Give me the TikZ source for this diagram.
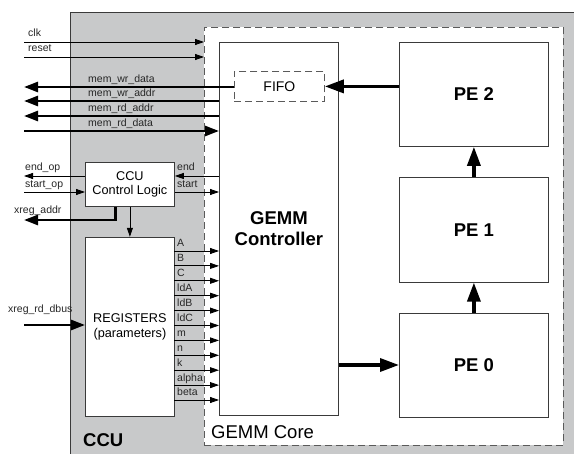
\documentclass[tikz,border=0pt]{standalone}
\usepackage{fontspec}
\setmainfont{Liberation Sans}
\usetikzlibrary{arrows.meta,positioning}
\definecolor{ccugray}{HTML}{C8C9CA}
\definecolor{edge}{HTML}{3A3A3A}
\definecolor{dashgray}{HTML}{5A5A5A}

\begin{document}
\begin{tikzpicture}[
  x=1pt,y=-1pt,
  sig/.style={font=\fontsize{10.5}{12}\selectfont,inner sep=0pt,anchor=base west,text=black!85},
  blk/.style={draw=edge,line width=0.8pt,fill=white,inner sep=0pt,align=center,anchor=north west},
  core/.style={blk,draw=dashgray,dash pattern=on 7pt off 4pt},
  big/.style={font=\fontsize{18.5}{21}\selectfont\bfseries},
  mid/.style={font=\fontsize{12.7}{14.5}\selectfont},
  wire/.style={-{Triangle[length=9pt,width=6pt]},draw=black,line width=0.8pt},
  bus/.style={-{Triangle[length=14pt,width=10pt]},draw=black,line width=2.6pt},
  link/.style={-{Triangle[length=19pt,width=13pt]},draw=black,line width=3.4pt}]
\useasboundingbox (0,0) rectangle (574,454);
% CCU and GEMM core frames
\node[fill=ccugray,inner sep=0pt,minimum width=504pt,minimum height=442pt,anchor=north west] (ccu) at (70,12) {};
\draw[edge,line width=0.8pt] (ccu.south west) -- (ccu.north west) -- (ccu.north east);
\node[core,minimum width=359pt,minimum height=418pt] (gcore) at (204,27) {};
\node[big,inner sep=0pt,anchor=base west] (lccu) at (83,447) {CCU};
\node[font=\fontsize{18.5}{21}\selectfont,inner sep=0pt,anchor=base west] (lcore) at (211,439) {GEMM Core};
% blocks
\node[blk,big,minimum width=119pt,minimum height=373pt] (gemm) at (219,42) {GEMM\\Controller};
\node[core,font=\fontsize{14}{16}\selectfont,minimum width=90pt,minimum height=30pt] (fifo) at (234,71) {FIFO};
\node[blk,big,minimum width=149pt,minimum height=104pt] (pe2) at (399,42) {PE 2};
\node[blk,big,minimum width=149pt,minimum height=105pt,below=30pt of pe2] (pe1) {PE 1};
\node[blk,big,minimum width=149pt,minimum height=104pt,below=30pt of pe1] (pe0) {PE 0};
\node[blk,mid,minimum width=89pt,minimum height=44pt] (ctl) at (85,162) {CCU\\Control Logic};
\node[blk,mid,minimum width=89pt,minimum height=179pt,below=30pt of ctl] (regs) {REGISTERS\\(parameters)};
% PE chain
\draw[link] (fifo.east -| pe2.west) -- (fifo.east);
\draw[link] (pe1) -- (pe2);
\draw[link] (pe0) -- (pe1);
\draw[link] (pe0.west -| gemm.east) -- (pe0.west);
% external ports
\coordinate (clk) at (24,42);
\coordinate (rst) at (24,57);
\coordinate (mwd) at (24,87);
\coordinate (mwa) at (24,101);
\coordinate (mra) at (24,116);
\coordinate (mrd) at (24,131);
\coordinate (endop) at (24,176);
\coordinate (startop) at (24,192);
\coordinate (xra) at (24,220);
\coordinate (xrd) at (24,325);
\draw[wire] (clk) -- (clk -| gcore.west);
\draw[wire] (rst) -- (rst -| gcore.west);
\draw[bus] (fifo.west |- mwd) -- (mwd);
\draw[bus] (mwa -| gemm.west) -- (mwa);
\draw[bus] (mra -| gemm.west) -- (mra);
\draw[bus] (mrd) -- (mrd -| gemm.west);
\draw[wire] (endop -| ctl.west) -- (endop);
\draw[wire] (startop) -- (startop -| ctl.west);
\draw[wire] (endop -| gemm.west) -- (endop -| ctl.east);
\draw[wire] (startop -| ctl.east) -- (startop -| gemm.west);
\draw[bus] ([xshift=-14.5pt]ctl.south) |- (xra);
\draw[wire] (ctl) -- (regs);
\draw[bus] (xrd) -- (xrd -| regs.west);
\node[sig] (lclk) at (28,37) {clk};
\node[sig] (lrst) at (28,52) {reset};
\node[sig] (lmwd) at (88,83) {mem\_wr\_data};
\node[sig] (lmwa) at (88,97) {mem\_wr\_addr};
\node[sig] (lmra) at (88,112) {mem\_rd\_addr};
\node[sig] (lmrd) at (88,127) {mem\_rd\_data};
\node[sig] (lendop) at (25,171) {end\_op};
\node[sig] (lstartop) at (25,188) {start\_op};
\node[sig] (lxra) at (14,214) {xreg\_addr};
\node[sig] (lxrd) at (8,313) {xreg\_rd\_dbus};
\node[sig] (lend) at (177,171) {end};
\node[sig] (lstart) at (177,188) {start};
% register outputs
\foreach \lab [count=\i from 0] in {A,B,C,ldA,ldB,ldC,m,n,k,alpha,beta} {
  \coordinate (r\i) at (174,251+14.9*\i);
  \draw[wire] (r\i) -- (r\i -| gemm.west);
  \node[sig] (lr\i) at ([xshift=3pt,yshift=4pt]r\i) {\lab};
}
\end{tikzpicture}
\end{document}
